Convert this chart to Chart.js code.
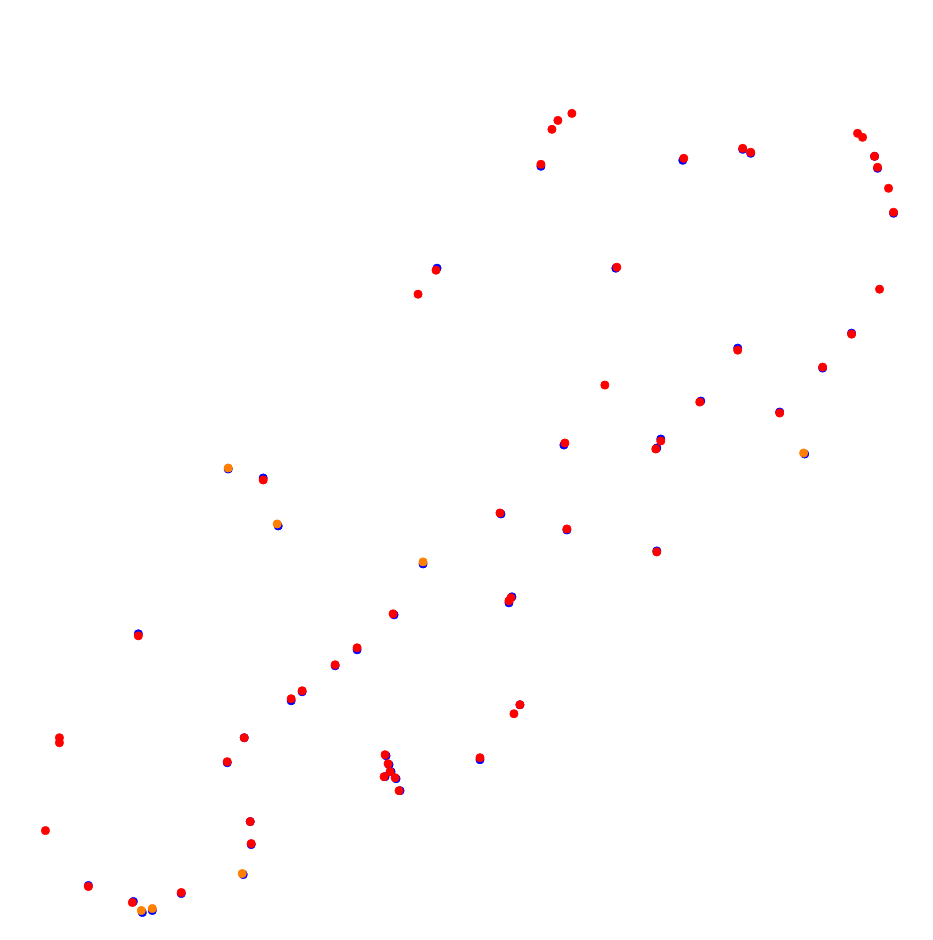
<!DOCTYPE html>
<html>
<head>
<meta charset="utf-8">
<script src="https://cdn.jsdelivr.net/npm/chart.js@4"></script>
<style>
html,body{margin:0;padding:0;background:#fff;}
#wrap{width:933px;height:940px;}
</style>
</head>
<body>
<div id="wrap"><canvas id="c"></canvas></div>
<script>
// Series: x / y positions (x: 0..933 left→right, y: 0..940 top→bottom)
const blueX = [541,683,743,751,875,878,894,852,823,780,805,738,701,661,657,616,564,567,657,501,437,423,509,512,520,480,386,389,391,385,396,400,394,357,335,302,291,244,227,250,251,243,181,152,142,133,88,138,263,228,278];
const blueY = [166,160,149,153,156,168,213,333,368,412,454,348,401,439,448,268,445,530,551,514,268,564,603,597,705,760,756,765,772,777,779,791,615,650,666,692,701,738,763,822,845,875,894,911,913,902,886,634,478,469,526];

const orangeX = [804,423,242,152,141,228,277];
const orangeY = [453,562,874,909,911,468,524];

const redX = [572,558,552,541,684,743,751,858,863,875,878,889,894,880,852,823,780,738,700,661,656,617,605,565,567,657,500,436,418,509,511,520,514,480,385,388,390,384,395,399,393,357,335,302,291,244,227,250,251,181,132,88,45,59,59,138,263];
const redY = [113,120,129,164,158,148,152,133,137,156,167,188,212,289,334,367,413,350,402,441,449,267,385,443,529,552,513,270,294,601,598,705,714,758,755,764,772,777,778,791,614,648,665,691,699,738,762,822,844,893,903,887,831,738,743,636,480];

// Axis ranges (the plot area is inset ~4.5px by Chart.js for point overflow)
const xRange = [4.5, 928.5];
const yRange = [4.5, 935.5];

function pts(xs, ys){ return xs.map((x,i)=>({x:x, y:ys[i]})); }

new Chart(document.getElementById('c'), {
  type: 'scatter',
  data: {
    datasets: [
      { label:'red', data: pts(redX, redY), backgroundColor:'#ff0000', borderColor:'#ff0000', pointRadius:4, borderWidth:1, order:0 },
      { label:'orange', data: pts(orangeX, orangeY), backgroundColor:'#ff8000', borderColor:'#ff8000', pointRadius:4, borderWidth:1, order:1 },
      { label:'blue', data: pts(blueX, blueY), backgroundColor:'#0000ff', borderColor:'#0000ff', pointRadius:4, borderWidth:1, order:2 }
    ]
  },
  options: {
    responsive: true,
    maintainAspectRatio: false,
    animation: false,
    layout: { padding: 0 },
    plugins: { legend: { display:false }, tooltip: { enabled:false } },
    scales: {
      x: { type:'linear', min:xRange[0], max:xRange[1], display:false },
      y: { type:'linear', min:yRange[0], max:yRange[1], reverse:true, display:false }
    }
  }
});
</script>
</body>
</html>
